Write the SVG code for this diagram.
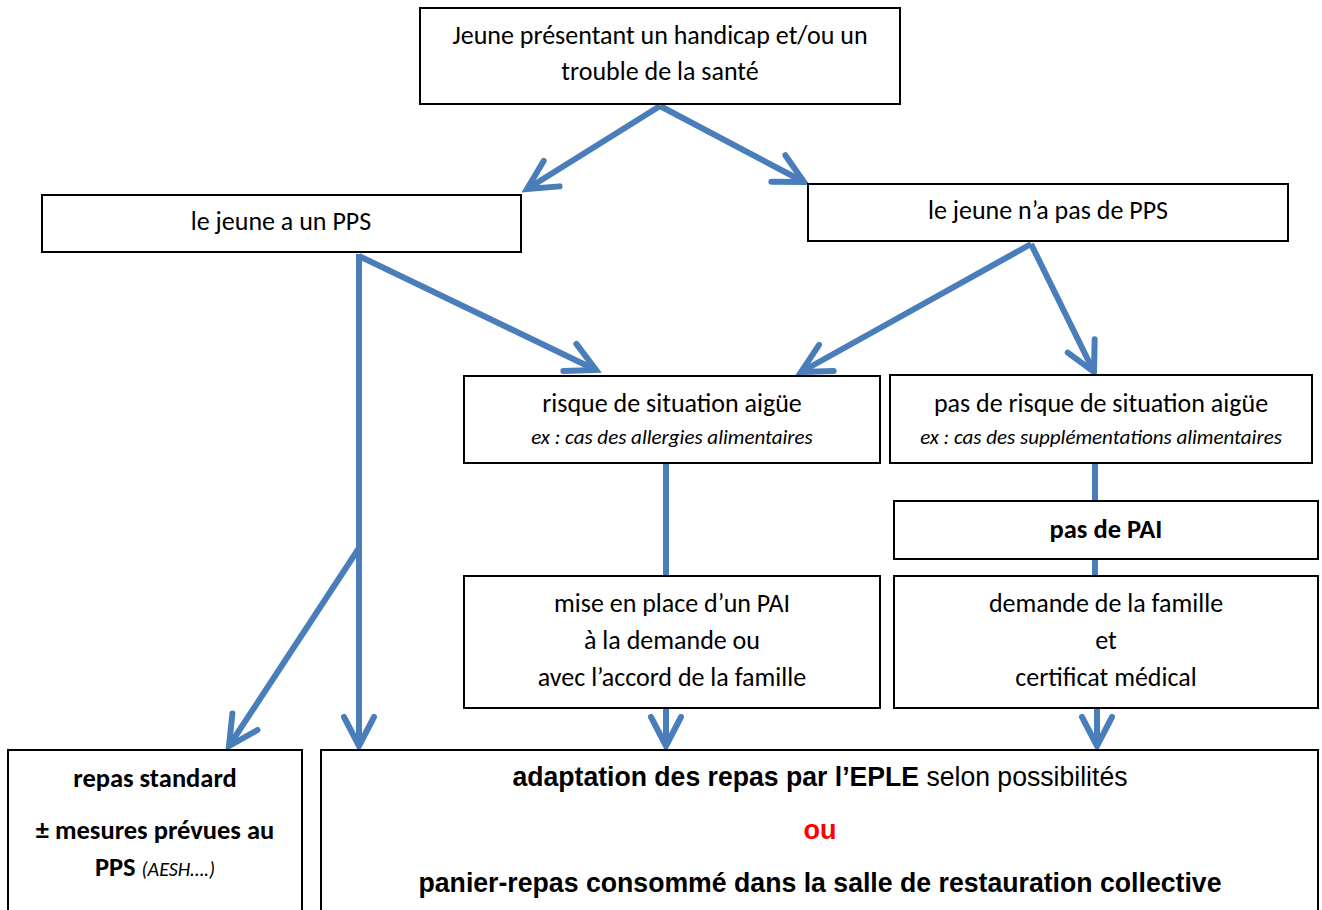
<svg xmlns="http://www.w3.org/2000/svg" width="1322" height="910" viewBox="0 0 1322 910">
<style>
.box{fill:#fff;stroke:#000;stroke-width:2}
.t{font-family:Carlito,Lato,"Open Sans",sans-serif;font-size:26px;fill:#000;text-anchor:middle}
.i{font-family:Carlito,Lato,"Open Sans",sans-serif;font-size:21px;font-style:italic;fill:#000;text-anchor:middle}
.b{font-weight:bold;font-size:26.5px}
.a{font-family:"Liberation Sans",Arial,sans-serif;font-size:27px;text-anchor:middle}
.c{fill:none;stroke:#4A7EBB;stroke-width:6}
</style>
<defs>
<marker id="ah" markerUnits="userSpaceOnUse" viewBox="-40 -25 50 50" refX="0" refY="0" markerWidth="50" markerHeight="50" orient="auto" overflow="visible">
<path d="M-29,-15 L0,0 L-29,15" fill="none" stroke="#4A7EBB" stroke-width="6" stroke-linecap="round" stroke-linejoin="miter"/>
</marker>
</defs>
<rect width="1322" height="910" fill="#fff"/>
<g id="connectors">
<line class="c" x1="660" y1="106" x2="527" y2="189" marker-end="url(#ah)"/>
<line class="c" x1="660" y1="106" x2="804" y2="182" marker-end="url(#ah)"/>
<line class="c" x1="359" y1="256" x2="596" y2="370" marker-end="url(#ah)"/>
<line class="c" x1="359" y1="254" x2="359" y2="746" marker-end="url(#ah)"/>
<line class="c" x1="359" y1="548" x2="229" y2="746" marker-end="url(#ah)"/>
<line class="c" x1="1031" y1="244" x2="801" y2="372" marker-end="url(#ah)"/>
<line class="c" x1="1031" y1="244" x2="1094" y2="372" marker-end="url(#ah)"/>
<line class="c" x1="666" y1="464" x2="666" y2="576"/>
<line class="c" x1="666" y1="708" x2="666" y2="746" marker-end="url(#ah)"/>
<line class="c" x1="1095" y1="464" x2="1095" y2="576"/>
<line class="c" x1="1097" y1="708" x2="1097" y2="746" marker-end="url(#ah)"/>
</g>
<g id="n-top">
<rect class="box" x="420" y="8" width="480" height="96"/>
<text class="t" x="660" y="44">Jeune présentant un handicap et/ou un</text>
<text class="t" x="660" y="80">trouble de la santé</text>
</g>
<g id="n-pps">
<rect class="box" x="42" y="195" width="479" height="57"/>
<text class="t" x="281" y="230">le jeune a un PPS</text>
</g>
<g id="n-nopps">
<rect class="box" x="808" y="184" width="480" height="57"/>
<text class="t" x="1048" y="219">le jeune n’a pas de PPS</text>
</g>
<g id="n-risque">
<rect class="box" x="464" y="376" width="416" height="87"/>
<text class="t" x="672" y="412">risque de situation aigüe</text>
<text class="i" x="672" y="444">ex : cas des allergies alimentaires</text>
</g>
<g id="n-norisque">
<rect class="box" x="890" y="375" width="422" height="88"/>
<text class="t" x="1101" y="412">pas de risque de situation aigüe</text>
<text class="i" x="1101" y="444">ex : cas des supplémentations alimentaires</text>
</g>
<g id="n-paspai">
<rect class="box" x="894" y="501" width="424" height="58"/>
<text class="t b" x="1106" y="538">pas de PAI</text>
</g>
<g id="n-pai">
<rect class="box" x="464" y="576" width="416" height="132"/>
<text class="t" x="672" y="612">mise en place d’un PAI</text>
<text class="t" x="672" y="649">à la demande ou</text>
<text class="t" x="672" y="686">avec l’accord de la famille</text>
</g>
<g id="n-demande">
<rect class="box" x="894" y="576" width="424" height="132"/>
<text class="t" x="1106" y="612">demande de la famille</text>
<text class="t" x="1106" y="649">et</text>
<text class="t" x="1106" y="686">certificat médical</text>
</g>
<g id="n-standard">
<rect class="box" x="8" y="750" width="294" height="170"/>
<text class="t b" x="155" y="787">repas standard</text>
<text class="t b" x="155" y="839">± mesures prévues au</text>
<text class="t" x="155" y="876"><tspan class="b">PPS</tspan> <tspan style="font-style:italic;font-size:20px">(AESH….)</tspan></text>
</g>
<g id="n-adaptation">
<rect class="box" x="321" y="750" width="997" height="170"/>
<text class="a" x="820" y="786" style="fill:#000" textLength="615" lengthAdjust="spacingAndGlyphs"><tspan font-weight="bold">adaptation des repas par l’EPLE</tspan> selon possibilités</text>
<text class="a" x="820" y="839" style="fill:#FF0000;font-weight:bold">ou</text>
<text class="a" x="820" y="892" style="fill:#000;font-weight:bold" textLength="803" lengthAdjust="spacingAndGlyphs">panier-repas consommé dans la salle de restauration collective</text>
</g>
</svg>
